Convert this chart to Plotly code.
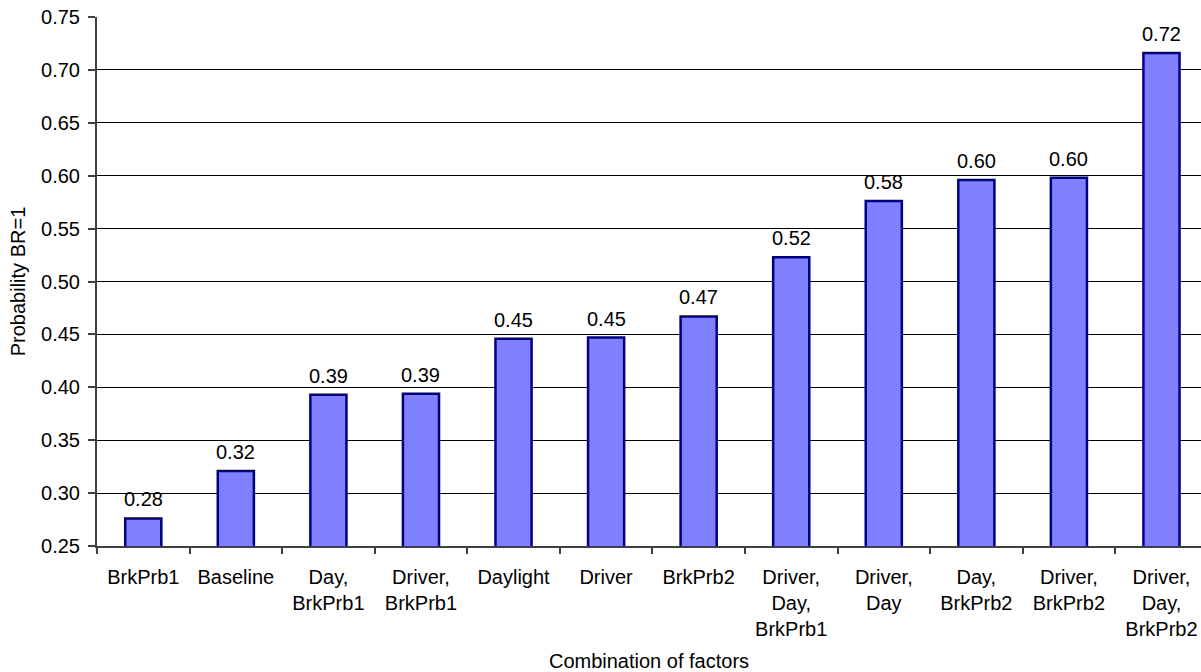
import plotly.graph_objects as go

# Estimated probability of BR=1 for each combination of factors
categories = [
    "BrkPrb1", "Baseline", "Day,<br>BrkPrb1", "Driver,<br>BrkPrb1", "Daylight",
    "Driver", "BrkPrb2", "Driver,<br>Day,<br>BrkPrb1", "Driver,<br>Day",
    "Day,<br>BrkPrb2", "Driver,<br>BrkPrb2", "Driver,<br>Day,<br>BrkPrb2",
]
probabilities = [0.276, 0.321, 0.393, 0.394, 0.446, 0.447, 0.467,
                 0.523, 0.576, 0.596, 0.598, 0.716]
y_ticks = [0.25, 0.30, 0.35, 0.40, 0.45, 0.50, 0.55, 0.60, 0.65, 0.70, 0.75]

FONT = "Liberation Sans, Arial, sans-serif"
SIZE = 20

fig = go.Figure(
    go.Bar(
        x=categories,
        y=probabilities,
        base=0,
        marker=dict(color="#8080FF", line=dict(color="#000080", width=2.5)),
        hoverinfo="x+y",
    )
)

# Value labels above each bar
for cat, val in zip(categories, probabilities):
    fig.add_annotation(
        x=cat, y=val, xref="x", yref="y",
        text=f"{val:.2f}", showarrow=False,
        yanchor="bottom", yshift=6,
        font=dict(family=FONT, size=SIZE, color="black"),
    )

fig.update_layout(
    width=1201, height=672,
    margin=dict(l=97, r=0, t=17, b=126, autoexpand=False),
    paper_bgcolor="white", plot_bgcolor="white",
    bargap=0.61,
    showlegend=False,
    font=dict(family=FONT, size=SIZE, color="black"),
)

fig.update_xaxes(
    type="category",
    range=[-0.5, 11.427],
    showline=True, linecolor="#404040", linewidth=2,
    ticks="outside", tickson="boundaries", ticklen=6, tickcolor="#404040", tickwidth=1.5,
    ticklabelstandoff=12,
    showgrid=False,
    title=dict(text="Combination of factors", standoff=18,
               font=dict(family=FONT, size=SIZE)),
    automargin=False,
    fixedrange=True,
)

fig.update_yaxes(
    range=[0.25, 0.75],
    tickvals=y_ticks,
    ticktext=[f"{t:.2f}" for t in y_ticks],
    showline=True, linecolor="#404040", linewidth=2,
    ticks="outside", ticklen=7, tickcolor="#404040", tickwidth=1.5,
    ticklabelstandoff=4,
    showgrid=True, gridcolor="black", gridwidth=1,
    zeroline=False,
    title=dict(text="Probability BR=1", standoff=10,
               font=dict(family=FONT, size=SIZE)),
    automargin=False,
    fixedrange=True,
)

fig.write_html("out.html")
